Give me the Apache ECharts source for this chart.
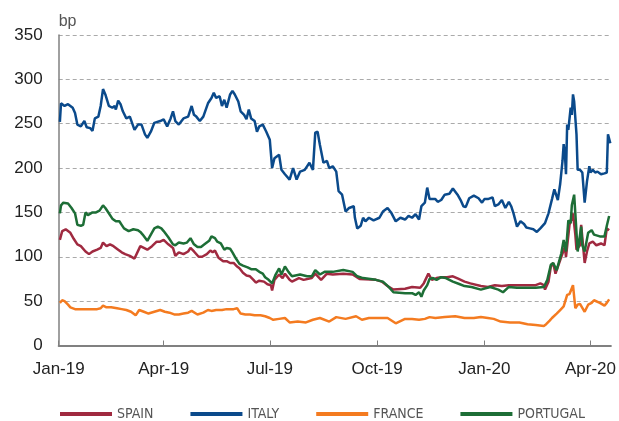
<!DOCTYPE html>
<html>
<head>
<meta charset="utf-8">
<script src="https://cdn.jsdelivr.net/npm/echarts@6/dist/echarts.min.js"></script>
<style>
  html, body { margin: 0; padding: 0; background: #fff; }
  #chart { width: 619px; height: 421px; }
</style>
</head>
<body>
<div id="chart"></div>
<script>
// days counted from 1 Jan 2019, spread in basis points
const spain = [
  [1,119],[3,129],[6,131],[10,127],[13,120],[16,114],[19,112],[23,106],[26,103],[29,106],[33,108],[36,110],
  [38,116],[41,112],[44,114],[47,112],[51,108],[54,105],[57,103],[61,101],[65,98],[70,112],[73,110],[76,108],
  [80,112],[84,117],[87,117],[90,119],[94,114],[98,110],[100,101],[103,105],[107,103],[111,106],[113,110],
  [116,106],[120,100],[123,100],[127,103],[130,107],[132,105],[134,107],[137,99],[141,95],[144,95],[147,93],
  [150,93],[153,89],[155,87],[158,82],[161,79],[164,78],[167,74],[169,71],[172,73],[176,72],[179,69],[182,68],
  [183,62],[185,74],[189,80],[192,76],[194,81],[198,74],[200,72],[206,76],[210,74],[217,76],[220,81],[225,74],
  [230,81],[235,80],[244,81],[252,80],[258,75],[272,74],[277,72],[283,66],[287,63],[297,64],[303,66],[310,65],
  [313,70],[317,81],[320,74],[324,76],[328,77],[333,77],[338,78],[343,75],[348,72],[353,70],[362,67],[368,66],
  [374,68],[380,67],[386,68],[394,68],[409,68],[413,70],[416,68],[417,63],[420,72],[422,89],[424,93],[426,81],
  [431,100],[434,111],[435,100],[438,136],[440,143],[441,149],[443,125],[444,108],[447,113],[448,136],[451,93],
  [453,106],[455,115],[458,117],[461,113],[465,115],[468,113],[470,132],[472,130]
]
const italy = [
  [1,252],[2,273],[5,270],[8,272],[12,268],[14,262],[16,249],[19,247],[22,253],[24,246],[27,245],[29,242],
  [31,256],[34,258],[36,270],[38,289],[40,283],[43,270],[46,268],[48,270],[49,266],[51,276],[53,272],[55,264],
  [58,256],[61,258],[65,243],[68,249],[71,249],[74,238],[76,234],[79,241],[82,251],[87,253],[90,255],[93,247],
  [96,256],[98,264],[100,253],[103,249],[107,256],[111,258],[114,270],[116,260],[118,258],[121,253],[124,258],
  [128,273],[131,279],[133,285],[135,279],[138,281],[140,270],[142,277],[144,268],[147,283],[149,287],[151,283],
  [154,275],[156,264],[159,260],[161,255],[163,266],[165,256],[168,253],[170,241],[172,247],[175,249],[178,241],
  [181,232],[183,200],[185,211],[189,215],[191,198],[194,193],[198,187],[201,200],[204,187],[207,196],[211,198],
  [215,206],[218,198],[220,240],[222,241],[224,226],[227,206],[230,208],[232,200],[235,202],[238,196],[240,174],
  [243,170],[246,151],[249,155],[253,157],[254,144],[256,132],[259,135],[261,144],[263,140],[266,144],[270,141],
  [275,144],[278,151],[282,155],[285,150],[289,140],[293,144],[297,142],[300,146],[303,144],[306,148],[309,142],
  [311,157],[314,161],[316,178],[318,165],[320,165],[323,165],[325,162],[328,164],[331,170],[335,171],[338,177],
  [342,170],[345,163],[347,157],[349,156],[352,166],[356,169],[360,166],[363,161],[365,165],[368,165],[372,167],
  [374,157],[377,159],[380,164],[383,155],[386,162],[388,157],[390,149],[393,134],[396,140],[399,137],[401,133],
  [404,132],[407,131],[410,128],[413,132],[417,138],[420,149],[423,165],[425,176],[428,164],[430,182],[432,208],
  [433,227],[434,217],[435,193],[436,249],[437,243],[439,268],[440,260],[441,283],[442,275],[444,238],[445,198],
  [447,198],[449,195],[451,161],[453,185],[455,202],[456,195],[458,198],[460,195],[462,196],[465,193],[468,194],
  [470,195],[471,238],[472,236],[473,228]
]
const france = [
  [1,48],[3,51],[5,50],[8,46],[10,43],[14,41],[18,41],[22,41],[26,41],[30,41],[33,41],[36,42],[38,45],[41,43],
  [45,43],[50,42],[54,41],[58,40],[62,38],[66,34],[69,40],[73,38],[77,36],[82,38],[87,40],[91,38],[95,37],
  [99,35],[103,35],[107,36],[111,37],[114,39],[119,35],[124,37],[128,40],[131,39],[135,40],[140,40],[144,41],
  [150,41],[153,42],[156,36],[160,35],[164,35],[168,34],[173,34],[177,33],[181,31],[184,29],[189,30],[194,31],
  [198,26],[205,27],[212,26],[218,29],[224,31],[232,27],[238,32],[246,30],[255,33],[260,29],[266,31],[272,31],
  [278,31],[282,31],[289,25],[297,30],[303,30],[309,29],[314,30],[318,32],[323,31],[331,32],[340,33],[348,31],
  [356,31],[362,32],[368,31],[373,30],[379,27],[387,26],[395,26],[402,24],[409,23],[416,22],[418,24],[421,28],
  [423,31],[427,36],[430,40],[433,44],[436,57],[438,58],[441,68],[443,42],[445,46],[447,47],[451,38],[454,46],
  [457,48],[459,51],[464,48],[468,45],[470,48],[472,52]
]
const portugal = [
  [1,149],[2,158],[4,161],[8,160],[11,155],[14,149],[16,136],[19,135],[21,136],[23,150],[25,147],[29,150],
  [32,150],[35,152],[38,158],[40,155],[42,151],[46,143],[49,140],[52,140],[54,136],[56,132],[60,129],[64,131],
  [68,130],[70,128],[72,125],[76,118],[79,125],[82,132],[85,134],[88,132],[90,129],[94,122],[98,114],[100,113],
  [103,116],[107,115],[110,116],[113,121],[116,114],[119,111],[122,111],[125,114],[129,118],[131,123],[134,121],
  [136,117],[139,115],[142,108],[144,110],[147,109],[149,105],[152,98],[155,92],[158,90],[162,88],[165,86],
  [169,86],[172,83],[175,81],[177,77],[180,74],[183,70],[186,80],[189,87],[191,80],[194,89],[197,83],[200,78],
  [207,80],[213,78],[217,78],[220,85],[224,80],[228,83],[235,83],[244,85],[252,83],[256,78],[261,76],[272,74],
  [278,72],[283,66],[287,60],[297,59],[303,59],[306,57],[309,60],[311,55],[313,62],[316,68],[318,75],[321,76],
  [324,74],[328,77],[332,76],[338,72],[344,69],[348,67],[354,66],[362,63],[370,66],[377,63],[381,60],[386,66],
  [393,65],[400,65],[409,65],[416,66],[419,74],[422,91],[424,93],[427,85],[431,104],[433,119],[435,106],
  [437,141],[439,138],[440,158],[442,170],[443,149],[445,106],[448,134],[449,113],[451,106],[454,127],[457,130],
  [459,125],[464,123],[468,123],[470,135],[472,146]
]

const tickDates = ['2019-01-01', '2019-04-01', '2019-07-01', '2019-10-01', '2020-01-01', '2020-04-01']
const tickLabels = ['Jan-19', 'Apr-19', 'Jul-19', 'Oct-19', 'Jan-20', 'Apr-20']

const DAY = 86400000
const base = Date.UTC(2019, 0, 1)
const toDay = (s) => {
  const p = s.split('-').map(Number)
  return Math.round((Date.UTC(p[0], p[1] - 1, p[2]) - base) / DAY)
}
const tickDays = tickDates.map(toDay)

const colors = {
  SPAIN: '#a02a40',
  ITALY: '#0b4a8b',
  FRANCE: '#f47b20',
  PORTUGAL: '#1d6e36'
}

const chart = echarts.init(document.getElementById('chart'))

const mkLine = (name, data) => ({
  name,
  type: 'line',
  data,
  showSymbol: false,
  symbol: 'none',
  lineStyle: { width: 2.5, color: colors[name] },
  itemStyle: { color: colors[name] }
})

chart.setOption({
  animation: false,
  backgroundColor: '#fff',
  grid: { left: 58.7, right: 1, top: 35, bottom: 75.5 },
  legend: {
    top: 407,
    left: 60,
    padding: 0,
    itemWidth: 52,
    itemHeight: 4,
    itemGap: 37,
    icon: 'rect',
    textStyle: {
      color: '#555',
      fontSize: 14,
      fontFamily: "'Liberation Sans Narrow', 'DejaVu Sans Condensed', 'Liberation Sans', sans-serif"
    },
    data: ['SPAIN', 'ITALY', 'FRANCE', 'PORTUGAL']
  },
  xAxis: {
    type: 'value',
    min: 0,
    max: 473.5,
    axisLine: { lineStyle: { color: '#808080', width: 2 } },
    axisTick: {
      inside: true,
      length: 5,
      customValues: tickDays,
      lineStyle: { color: '#808080', width: 1 }
    },
    axisLabel: {
      customValues: tickDays,
      margin: 15,
      color: '#222',
      fontSize: 17,
      fontFamily: "'Liberation Sans', Arial, sans-serif",
      formatter: (val) => {
        const i = tickDays.indexOf(Math.round(val))
        return i >= 0 ? tickLabels[i] : ''
      }
    },
    splitLine: { show: false }
  },
  yAxis: {
    type: 'value',
    min: 0,
    max: 350,
    interval: 50,
    name: 'bp',
    nameLocation: 'end',
    nameGap: 5,
    nameTextStyle: {
      align: 'left',
      color: '#555',
      fontSize: 16,
      fontFamily: "'Liberation Sans', Arial, sans-serif"
    },
    axisLine: { show: true, lineStyle: { color: '#808080', width: 1.5 } },
    axisTick: { show: false },
    axisLabel: {
      color: '#222',
      fontSize: 17,
      margin: 16,
      fontFamily: "'Liberation Sans', Arial, sans-serif"
    },
    splitLine: {
      lineStyle: { color: '#aaa', type: [4, 3], width: 1 }
    }
  },
  series: [
    mkLine('SPAIN', spain),
    mkLine('ITALY', italy),
    mkLine('FRANCE', france),
    mkLine('PORTUGAL', portugal)
  ]
})
</script>
</body>
</html>
